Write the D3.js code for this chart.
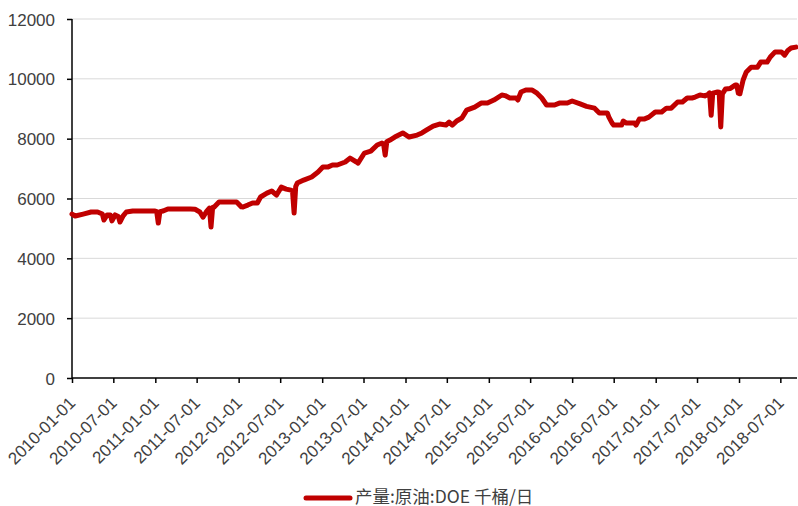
<!DOCTYPE html>
<html>
<head>
<meta charset="utf-8">
<script src="https://cdn.jsdelivr.net/npm/d3@7"></script>
<style>
  body { margin: 0; background: #fff; }
  svg { display: block; }
  .tick text { font-family: "Liberation Sans", Arial, sans-serif; font-size: 17px; fill: #404040; }
</style>
</head>
<body>
<svg id="chart" width="798" height="506"></svg>
<script>
// weekly US crude output (千桶/日)
var dates = [
  "2010-01-01","2010-01-15","2010-02-19","2010-03-26","2010-04-23","2010-05-14","2010-05-21","2010-06-04",
  "2010-06-18","2010-06-25","2010-07-09","2010-07-23","2010-07-30","2010-08-13","2010-08-27","2010-09-24",
  "2010-11-19","2010-12-31","2011-01-07","2011-01-14","2011-01-21","2011-02-04","2011-02-25","2011-04-22",
  "2011-06-03","2011-06-24","2011-07-15","2011-07-29","2011-08-12","2011-08-26","2011-09-02","2011-09-09",
  "2011-09-16","2011-10-07","2011-11-25","2011-12-23","2012-01-13","2012-01-20","2012-02-10","2012-03-02",
  "2012-03-23","2012-04-06","2012-05-04","2012-05-25","2012-06-15","2012-07-06","2012-07-27","2012-08-17",
  "2012-08-24","2012-08-31","2012-09-07","2012-09-14","2012-10-12","2012-11-16","2012-12-14","2013-01-04",
  "2013-01-25","2013-02-15","2013-03-08","2013-04-12","2013-05-03","2013-05-31","2013-06-07","2013-07-05",
  "2013-08-02","2013-08-30","2013-09-20","2013-09-27","2013-10-04","2013-10-11","2013-10-25","2013-11-15",
  "2013-12-20","2014-01-17","2014-02-21","2014-03-14","2014-04-04","2014-05-02","2014-05-30","2014-06-27",
  "2014-07-11","2014-07-25","2014-08-15","2014-09-05","2014-09-26","2014-10-31","2014-11-28","2014-12-26",
  "2015-01-23","2015-02-27","2015-03-13","2015-04-03","2015-05-01","2015-05-08","2015-05-22","2015-06-12",
  "2015-07-10","2015-07-31","2015-08-21","2015-09-11","2015-10-16","2015-11-06","2015-12-11","2016-01-01",
  "2016-02-05","2016-03-04","2016-04-08","2016-04-29","2016-06-03","2016-06-10","2016-06-24","2016-07-01",
  "2016-08-05","2016-08-12","2016-08-26","2016-09-30","2016-10-07","2016-10-21","2016-11-11","2016-12-02",
  "2016-12-30","2017-01-27","2017-02-17","2017-03-10","2017-04-07","2017-04-28","2017-05-19","2017-06-09",
  "2017-06-23","2017-07-14","2017-08-04","2017-08-18","2017-08-25","2017-09-01","2017-09-08","2017-09-29",
  "2017-10-06","2017-10-13","2017-10-20","2017-11-03","2017-11-24","2017-12-15","2017-12-22","2017-12-29",
  "2018-01-05","2018-01-19","2018-02-02","2018-02-23","2018-03-23","2018-04-06","2018-05-04","2018-05-18",
  "2018-06-08","2018-07-06","2018-07-20","2018-08-03","2018-08-17","2018-09-07"
];
var output = [
  5480,5415,5480,5550,5550,5480,5280,5450,
  5450,5250,5450,5400,5215,5420,5550,5580,
  5580,5580,5560,5180,5560,5580,5650,5650,
  5650,5640,5550,5380,5550,5680,5045,5700,
  5715,5880,5880,5880,5720,5715,5780,5850,
  5850,6050,6180,6250,6115,6380,6315,6280,
  6250,5515,6400,6515,6615,6720,6885,7050,
  7050,7120,7120,7220,7350,7220,7185,7520,
  7585,7790,7855,7820,7450,7900,7955,8055,
  8190,8055,8120,8190,8290,8420,8490,8455,
  8555,8455,8600,8690,8955,9055,9190,9190,
  9290,9460,9440,9360,9360,9290,9560,9625,
  9625,9520,9360,9125,9125,9190,9190,9260,
  9160,9080,9020,8860,8860,8720,8520,8455,
  8455,8590,8520,8520,8455,8655,8655,8720,
  8890,8890,9020,9020,9225,9225,9360,9360,
  9390,9460,9430,9480,9530,8780,9520,9560,
  9550,8390,9500,9660,9680,9790,9790,9520,
  9500,9960,10230,10390,10390,10560,10560,10730,
  10900,10900,10790,10950,11030,11060
];
var tickLabels = [
  "2010-01-01","2010-07-01","2011-01-01","2011-07-01","2012-01-01","2012-07-01",
  "2013-01-01","2013-07-01","2014-01-01","2014-07-01","2015-01-01","2015-07-01",
  "2016-01-01","2016-07-01","2017-01-01","2017-07-01","2018-01-01","2018-07-01"
];
var yTicks = [0, 2000, 4000, 6000, 8000, 10000, 12000];
var seriesName = "产量:原油:DOE 千桶/日";

var parse = d3.timeParse("%Y-%m-%d");
var svg = d3.select("#chart");

// plot box (avoid "top", it is window.top)
var pLeft = 72, pRight = 797, pTop = 19, pBottom = 378;

var xScale = d3.scaleTime()
    .domain([parse("2010-01-01"), parse("2018-09-12")])
    .range([pLeft, pRight]);
var yScale = d3.scaleLinear()
    .domain([0, 12000])
    .range([pBottom, pTop]);

// gridlines
svg.append("g")
    .selectAll("line")
    .data(yTicks.slice(1))
    .enter()
    .append("line")
    .attr("x1", pLeft)
    .attr("x2", pRight)
    .attr("y1", d => yScale(d))
    .attr("y2", d => yScale(d))
    .style("stroke", "#d9d9d9")
    .style("stroke-width", 1);

// y axis
var yAxis = svg.append("g")
    .attr("transform", "translate(" + pLeft + ",0)")
    .call(d3.axisLeft(yScale).tickValues(yTicks).tickSize(5).tickPadding(12).tickFormat(d3.format("d")));
yAxis.select("path").attr("d", "M0," + pBottom + "V" + pTop);
yAxis.selectAll("line, path").style("stroke", "#000").style("stroke-width", 1.5);
yAxis.selectAll("text").attr("dy", "0.36em");

// x axis
var xAxis = svg.append("g")
    .attr("transform", "translate(0," + pBottom + ")")
    .call(d3.axisBottom(xScale).tickValues(tickLabels.map(parse)).tickSize(5).tickFormat(d3.timeFormat("%Y-%m-%d")));
xAxis.select("path").attr("d", "M" + pLeft + ",0H" + pRight);
xAxis.selectAll("line, path").style("stroke", "#000").style("stroke-width", 1.5);
xAxis.selectAll("text")
    .attr("text-anchor", "end")
    .attr("y", 0)
    .attr("dy", 0)
    .attr("transform", "translate(4,26) rotate(-45)");

// the series
var line = d3.line()
    .x((d, i) => xScale(parse(dates[i])))
    .y(d => yScale(d));

svg.append("path")
    .datum(output)
    .attr("d", line)
    .style("fill", "none")
    .style("stroke", "#c00000")
    .style("stroke-width", 5)
    .style("stroke-linejoin", "round")
    .style("stroke-linecap", "round");

// legend
var legend = svg.append("g");
legend.append("line")
    .attr("x1", 306).attr("x2", 350)
    .attr("y1", 498).attr("y2", 498)
    .style("stroke", "#c00000")
    .style("stroke-width", 5)
    .style("stroke-linecap", "round");
legend.append("text")
    .attr("x", 355)
    .attr("y", 503)
    .style("font-family", "'Noto Sans CJK SC', sans-serif")
    .style("font-size", "17.5px")
    .style("fill", "#404040")
    .text(seriesName);
</script>
</body>
</html>
